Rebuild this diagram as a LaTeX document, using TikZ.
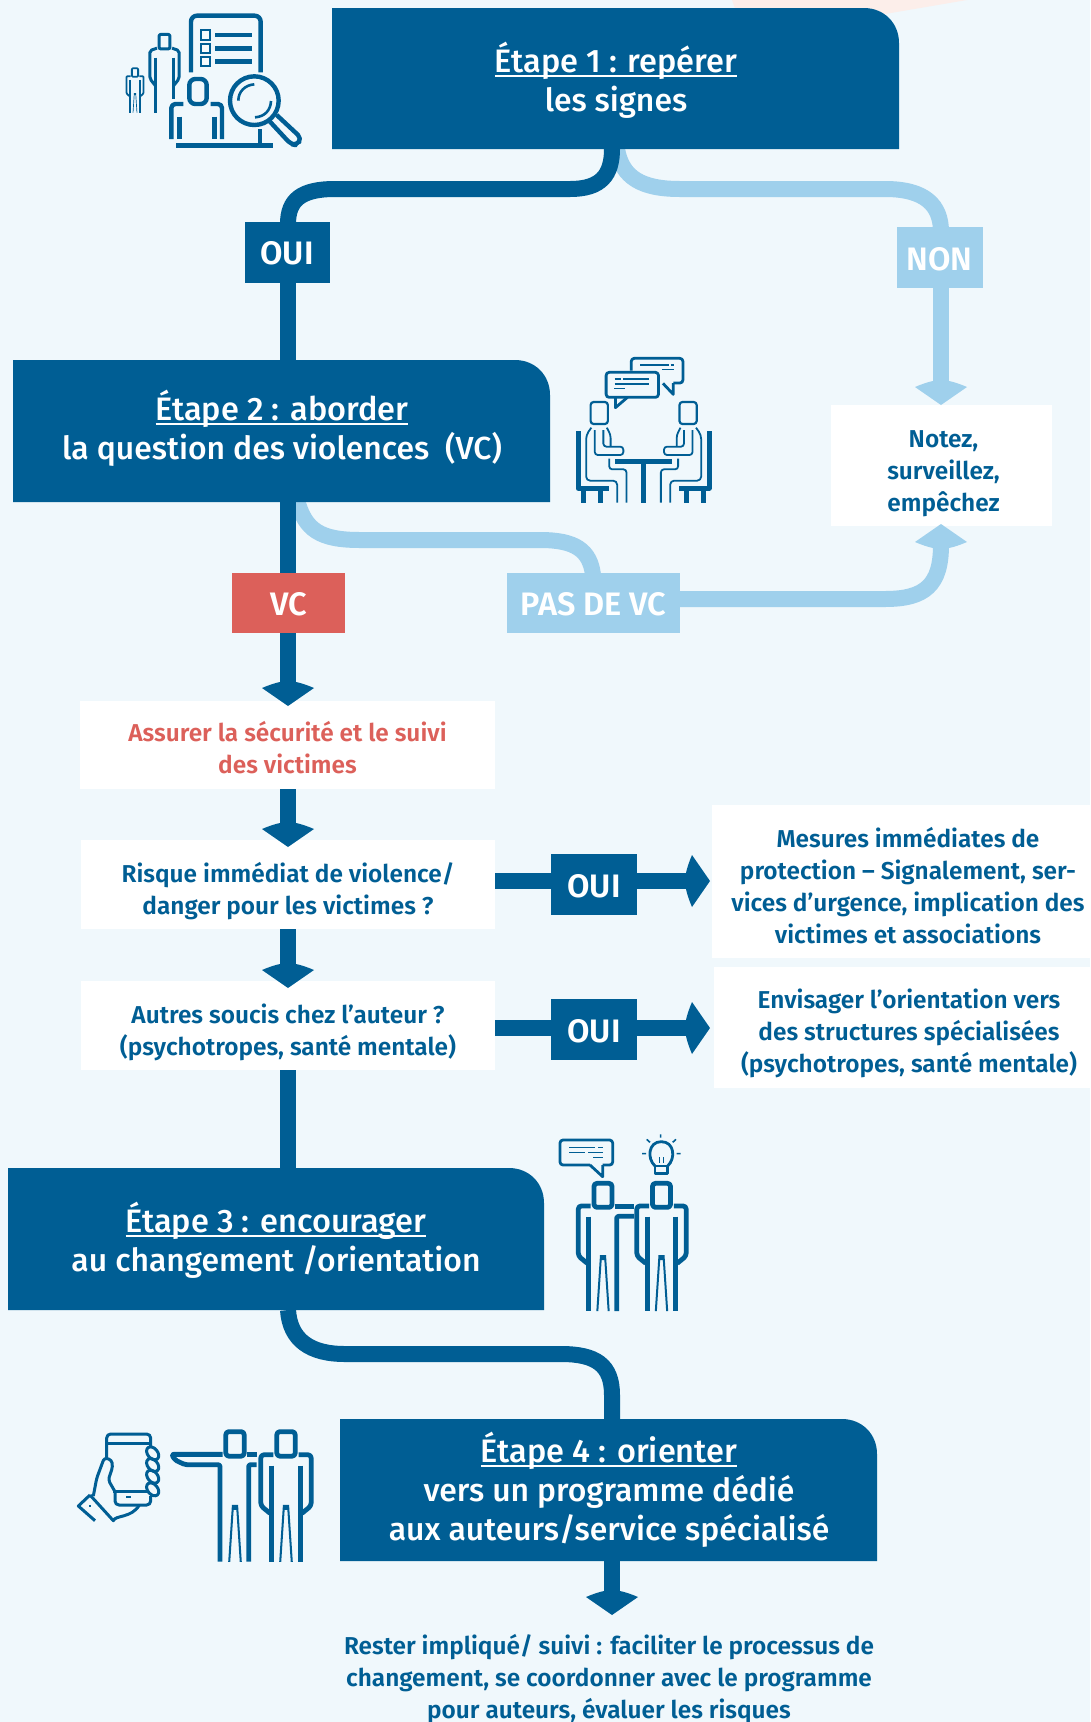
\documentclass[tikz,border=0pt]{standalone}
\usepackage{fontspec}
\setmainfont{Fira Sans}[BoldFont={Fira Sans SemiBold}]
\newfontfamily\headfont{Fira Sans Medium}
\usetikzlibrary{calc}
\definecolor{bgc}{HTML}{F0F8FC}
\definecolor{dkb}{HTML}{005E94}
\definecolor{ltb}{HTML}{9FD0EC}
\definecolor{redc}{HTML}{DC605A}
\definecolor{pinkc}{HTML}{FCEEEA}
\newcommand{\ulh}[1]{\setbox0=\hbox{\fontsize{32.5}{39}\selectfont #1}\rlap{\rule[-4.5pt]{\wd0}{2pt}}\box0 }
\newcommand{\pd}[1]{\rule{0pt}{#1pt}}
\tikzset{
  dkline/.style={draw=dkb,line width=16pt},
  ltline/.style={draw=ltb,line width=16pt},
  heading/.style={text=white,font=\headfont\fontsize{31.9}{39}\selectfont,align=center,inner sep=0pt},
  whitebox/.style={fill=white,text=dkb,font=\bfseries\fontsize{24.4}{32}\selectfont,align=center,inner sep=0pt},
  tagbox/.style={text=white,font=\bfseries\fontsize{32.5}{36}\selectfont,inner sep=0pt,text height=25pt,text depth=0pt},
  ic/.style={draw=dkb,line width=#1,line join=round},
  arrhead/.pic={\fill (0,0)--(26,-18) .. controls (19,-21) and (13,-23) .. (8,-24) -- (-8,-24) .. controls (-13,-23) and (-19,-21) .. (-26,-18) -- cycle;},
}
% person: centred on x=0, head top y=0, units 1/3 px
\newcommand{\figtop}[2]{% corner radius, line width
  \draw[ic=#2,rounded corners=#1] (-27,0) rectangle (27,72);
}
\newcommand{\figarm}[2]{%
  \draw[ic=#2,rounded corners=#1] (-37,68)--(-74,68)--(-74,218)--(-47,240);
}
\newcommand{\figlegs}[1]{%
  \fill[dkb] (-20,383)--(-9,215)--(9,215)--(20,383)--(14,383)--(4,230)--(-4,230)--(-14,383)--cycle;
}
\newcommand{\figperson}[4]{% cx, top, scale, lw
  \begin{scope}[shift={(#1,#2)},scale=#3]
    \figtop{3pt}{#4}
    \figarm{3pt}{#4}
    \begin{scope}[xscale=-1]\figarm{3pt}{#4}\end{scope}
    \draw[ic=#4] (-43,100)--(-43,383);
    \draw[ic=#4] (43,100)--(43,383);
    \figlegs{}
  \end{scope}
}
\begin{document}
\begin{tikzpicture}[x=1pt,y=-1pt]
\useasboundingbox (0,0) rectangle (1090,1722);
\fill[bgc] (0,0) rectangle (1090,1722);
\fill[pinkc] (732,0) -- (967,0) -- (885,14) -- (737,14) -- cycle;

% light connectors first
\coordinate (l1) at (617,149);
\coordinate (l2) at (297,500);
\node[tagbox,fill=ltb,minimum width=86,minimum height=61] (non) at (939.5,257.5) {NON};
\node[tagbox,fill=ltb,minimum width=173,minimum height=60] (pas) at (593.5,603) {PAS DE VC};
\node[whitebox,minimum width=221,minimum height=121] (note) at (941.5,465.5) {\pd{33}\hspace*{4pt}Notez,\\\hspace*{4pt}surveillez,\\\hspace*{4pt}empêchez};

\draw[ltline] (l1) .. controls (622,178) and (642,189) .. (680,189) -- (885,189) .. controls (925,189) and (941,205) .. (941,232);
\draw[ltline] (non.south -| 941,0) -- (941,385);
\draw[ltline] (l2) .. controls (305,530) and (320,540) .. (360,540) -- (540,540) .. controls (575,540) and (590,550) .. (593,575);
\draw[ltline] (pas.east |- 0,599) -- (885,599) .. controls (925,599) and (941,585) .. (941,545);
\node[tagbox,fill=ltb,minimum width=173,minimum height=60] at (pas) {PAS DE VC};
\pic[fill=ltb,color=ltb] at (941,405) {arrhead};
\pic[fill=ltb,color=ltb,rotate=180] at (941,524) {arrhead};
\node[tagbox,fill=ltb,minimum width=86,minimum height=61] at (non) {NON};

% step boxes
\fill[dkb] (332,8)--(864,8) .. controls (884,8) and (899,23) .. (899,43) -- (899,149) -- (332,149) -- cycle;
\node[heading,minimum width=567,minimum height=141] (e1) at (616,80) {\ulh{Étape 1 : repérer}\\les signes};

\fill[dkb] (13,360)--(515,360) .. controls (535,360) and (550,375) .. (550,395) -- (550,502) -- (13,502) -- cycle;
\node[heading,minimum width=537,minimum height=142] (e2) at (282,428) {\ulh{Étape 2 : aborder}\\la question des violences~ (VC)};

\fill[dkb] (8,1168)--(509,1168) .. controls (529,1168) and (544,1183) .. (544,1203) -- (544,1310) -- (8,1310) -- cycle;
\node[heading,minimum width=536,minimum height=142] (e3) at (276,1240) {\ulh{Étape 3 : encourager}\\au changement /orientation};

\fill[dkb] (340,1419)--(842,1419) .. controls (862,1419) and (877,1434) .. (877,1454) -- (877,1561) -- (340,1561) -- cycle;
\node[heading,minimum width=537,minimum height=142] (e4) at (609,1490) {\ulh{Étape 4 : orienter}\\vers un programme dédié\\aux auteurs/service spécialisé};

% white boxes
\node[whitebox,minimum width=415,minimum height=88,text=redc] (sec) at (287.5,745) {\pd{26}Assurer la sécurité et le suivi\\des victimes};
\node[whitebox,minimum width=414,minimum height=89] (risk) at (288,884.5) {\pd{33}Risque immédiat de violence/\\danger pour les victimes ?};
\node[whitebox,minimum width=414,minimum height=89] (aut) at (288,1025.5) {\pd{33}Autres soucis chez l’auteur ?\\(psychotropes, santé mentale)};
\node[whitebox,minimum width=392,minimum height=153] (mes) at (908,881.5) {\pd{29}Mesures immédiates de\\protection – Signalement, ser-\\vices d’urgence, implication des\\victimes et associations};
\node[whitebox,minimum width=390,minimum height=121] (env) at (909,1027.5) {\pd{31}Envisager l’orientation vers\\des structures spécialisées\\(psychotropes, santé mentale)};

% tags
\node[tagbox,fill=dkb,minimum width=85,minimum height=61] (oui1) at (287,252) {OUI};
\node[tagbox,fill=redc,minimum width=113,minimum height=60] (vc) at (288.5,603) {VC};
\node[tagbox,fill=dkb,minimum width=86,minimum height=61] (oui2) at (594,884.5) {OUI};
\node[tagbox,fill=dkb,minimum width=86,minimum height=61] (oui3) at (594,1029.5) {OUI};

% dark connectors
\coordinate (d1) at (612,149);
\coordinate (d2) at (288,1310);
\draw[dkline] (d1) .. controls (612,175) and (601,189) .. (570,189) -- (335,189) .. controls (301,189) and (288,200) .. (288,224);
\draw[dkline] (oui1.south -| 288,0) -- (288,360);
\draw[dkline] (288,502) -- (vc.north -| 288,0);
\draw[dkline] (vc.south -| 288,0) -- (288,690);
\pic[color=dkb] at (288,706) {arrhead};
\draw[dkline] (sec.south -| 288,0) -- (288,830);
\pic[color=dkb] at (288,847) {arrhead};
\draw[dkline] (risk.south -| 288,0) -- (288,970);
\pic[color=dkb] at (288,988) {arrhead};
\draw[dkline] (aut.south -| 288,0) -- (288,1168);
\draw[dkline] (d2) .. controls (290,1340) and (310,1354) .. (345,1354) -- (561,1354) .. controls (596,1354) and (612,1365) .. (612,1395) -- (612,1419);
\draw[dkline] (612,1561) -- (612,1600);
\pic[color=dkb] at (612,1615) {arrhead};
\draw[dkline] (risk.east |- 0,881) -- (oui2.west |- 0,881);
\draw[dkline] (oui2.east |- 0,881) -- (695,881);
\pic[color=dkb,rotate=90] at (710,881) {arrhead};
\draw[dkline] (aut.east |- 0,1028) -- (oui3.west |- 0,1028);
\draw[dkline] (oui3.east |- 0,1028) -- (695,1028);
\pic[color=dkb,rotate=90] at (710,1028) {arrhead};
\node[tagbox,fill=dkb,minimum width=85,minimum height=61] at (oui1) {OUI};
\node[tagbox,fill=redc,minimum width=113,minimum height=60] at (vc) {VC};

% bottom text
\node[text=dkb,font=\bfseries\fontsize{24.4}{32}\selectfont,align=center,inner sep=0pt] (end) at (609,1679) {Rester impliqué/ suivi : faciliter le processus de\\changement, se coordonner avec le programme\\pour auteurs, évaluer les risques};

% ICON 1
\begin{scope}[shift={(100,0)},scale=1/3]
  \draw[ic=4.4pt,rounded corners=6pt] (273,217)--(273,47)--(482,47)--(482,217);
  \foreach \yy in {105,145,185}{
    \draw[draw=dkb,line width=2pt,fill=bgc!60!white] (303,\yy-14) rectangle (330,\yy+14);
    \fill[dkb] (345,\yy-7) rectangle (456,\yy+7);
  }
  \begin{scope}[shift={(193.5,103)},scale=.61]
    \figtop{2pt}{3pt}
    \draw[ic=3pt,rounded corners=2pt] (-37,68)--(-72,80)--(-72,218)--(-43,255);
    \draw[ic=3pt,rounded corners=2pt] (37,68)--(72,80)--(72,218)--(43,255);
    \draw[ic=3pt] (-43,115)--(-43,385);
    \draw[ic=3pt] (43,115)--(43,320);
  \end{scope}
  \begin{scope}[shift={(105,205)},scale=.347]
    \figtop{1pt}{1.8pt}
    \figarm{1pt}{1.8pt}
    \begin{scope}[xscale=-1]\figarm{1pt}{1.8pt}\end{scope}
    \draw[ic=1.8pt] (-43,100)--(-43,383);
    \draw[ic=1.8pt] (43,100)--(43,383);
    \figlegs{}
  \end{scope}
  \draw[ic=4.4pt,rounded corners=6pt] (268,237) rectangle (320,312);
  \draw[ic=4.4pt,rounded corners=4pt] (250,312)--(214,312)--(214,417);
  \draw[ic=4.4pt,rounded corners=4pt] (332,312)--(366,312)--(366,417);
  \draw[ic=4.4pt] (238,350)--(238,417);
  \draw[ic=4.4pt] (344,350)--(344,417);
  \draw[ic=4.4pt] (228,437)--(520,437);
  \draw[ic=4.4pt] (480,388)--(480,437);
  \draw[ic=4.4pt] (463,302) circle (73);
  \draw[ic=2.6pt] (415,302) .. controls (415,275) and (435,255) .. (463,253);
  \draw[ic=2.6pt] (513,303) .. controls (512,330) and (495,350) .. (465,352);
  \draw[ic=4.4pt,rounded corners=5pt] (530,345)--(605,415)--(590,436)--(572,432)--(510,365);
\end{scope}

% ICON 2
\begin{scope}[shift={(550,340)},xscale=1/2.904,yscale=1/3]
  \draw[ic=2.8pt,rounded corners=3pt] (236,92)--(236,55)--(386,55)--(386,129)--(358,129);
  \draw[ic=2.8pt] (358,129)--(358,163)--(328,130);
  \draw[ic=1.5pt] (262,75)--(345,75) (350,75)--(360,75) (325,88)--(360,88);
  \draw[ic=2.8pt,rounded corners=3pt] (225,172)--(163,172)--(163,97)--(315,97)--(315,172)--(225,172);
  \draw[ic=2.8pt] (225,172)--(190,203)--(190,172);
  \draw[ic=1.5pt] (188,117)--(205,117) (212,117)--(288,117) (188,132)--(288,132) (186,146)--(218,146);
  \draw[ic=5pt] (190,364)--(355,364);
  \draw[ic=5.6pt] (272,364)--(272,488);
  \foreach \sc/\sh in {1/0,-1/544}{
    \begin{scope}[shift={(\sh,0)},xscale=\sc]
      \draw[ic=2.2pt,rounded corners=3pt] (118,186) rectangle (168,252);
      \draw[ic=1.8pt,rounded corners=4pt] (120,263)--(105,285)--(105,422)--(195,422)--(195,488);
      \draw[ic=1.8pt,rounded corners=3pt] (130,270)--(130,345)--(213,345)--(213,320)--(155,320)--(155,270);
      \draw[ic=1.8pt,rounded corners=3pt] (165,263)--(176,285)--(176,318);
      \draw[ic=1.8pt,rounded corners=3pt] (172,356)--(172,388)--(222,388)--(222,488);
      \draw[ic=5pt] (82,273)--(82,445)--(170,445);
      \draw[ic=5pt] (98,445)--(98,488) (148,445)--(148,488);
    \end{scope}
  }
\end{scope}

% ICON 3
\begin{scope}[shift={(540,1120)},scale=1/3]
  \draw[ic=2.8pt,rounded corners=3pt] (150,135)--(60,135)--(60,60)--(218,60)--(218,135)--(188,135);
  \draw[ic=2.8pt] (150,135)--(188,170)--(188,135);
  \draw[ic=1.6pt] (87,82)--(165,82) (175,82)--(190,82) (87,98)--(135,98) (145,98)--(190,98) (160,113)--(190,113);
  \draw[ic=2.8pt] (345,138) .. controls (320,115) and (325,65) .. (364,65) .. controls (403,65) and (408,115) .. (383,138);
  \draw[ic=2.8pt] (345,138) rectangle (383,160);
  \draw[ic=1.6pt] (358,112)--(358,128) (370,112)--(370,128);
  \draw[ic=1.6pt] (362,43)--(362,53) (320,58)--(330,67) (408,58)--(398,67) (306,101)--(318,101) (410,101)--(422,101);
  \figperson{364.5}{190}{1}{4.8pt}
  \begin{scope}[shift={(189,190)}]
    \figtop{3pt}{4.8pt}
    \figarm{3pt}{4.8pt}
    \draw[ic=4.8pt] (-43,100)--(-43,383);
    \figlegs{}
    \fill[dkb] (36,62) rectangle (93,77);
    \draw[ic=4.8pt,rounded corners=2pt] (93,99)--(41,99)--(41,383);
  \end{scope}
\end{scope}

% ICON 4
\begin{scope}[shift={(60,1410)},scale=1/3]
  \draw[ic=3pt,rounded corners=4pt] (140,142)--(140,72)--(272,72)--(272,108);
  \draw[ic=3pt] (140,100)--(272,100);
  \draw[ic=2.4pt] (160,245)--(262,245);
  \draw[ic=3pt,rounded corners=4pt] (165,245)--(165,285)--(272,285)--(272,258);
  \draw[ic=2pt] (198,262)--(212,262);
  \foreach \yy in {130,165,200,238}{
    \draw[ic=3pt,rotate around={-50:(278,\yy)}] (278,\yy) ellipse (22 and 15);
  }
  \draw[ic=3pt,rounded corners=3pt] (100,258)--(110,205)--(133,143)--(155,150)--(158,170)--(145,210)--(165,245);
  \draw[ic=3pt] (90,255)--(55,288)--(105,332);
  \draw[ic=3pt] (90,255)--(160,332) .. controls (165,315) and (215,325) .. (238,285);
  \draw[ic=2pt] (88,288)--(94,288);
  \figperson{678}{65}{1.02}{4.8pt}
  \begin{scope}[shift={(525,65)},scale=1.02]
    \figtop{3pt}{4.8pt}
    \figlegs{}
  \end{scope}
  \draw[ic=4.8pt,rounded corners=2pt] (488,133)--(335,133)--(345,150)--(375,164)--(480,164)--(480,455);
  \fill[dkb] (560,126) rectangle (590,141);
  \draw[ic=4.8pt,rounded corners=2pt] (590,164)--(566,164)--(566,455);
\end{scope}
\end{tikzpicture}
\end{document}
